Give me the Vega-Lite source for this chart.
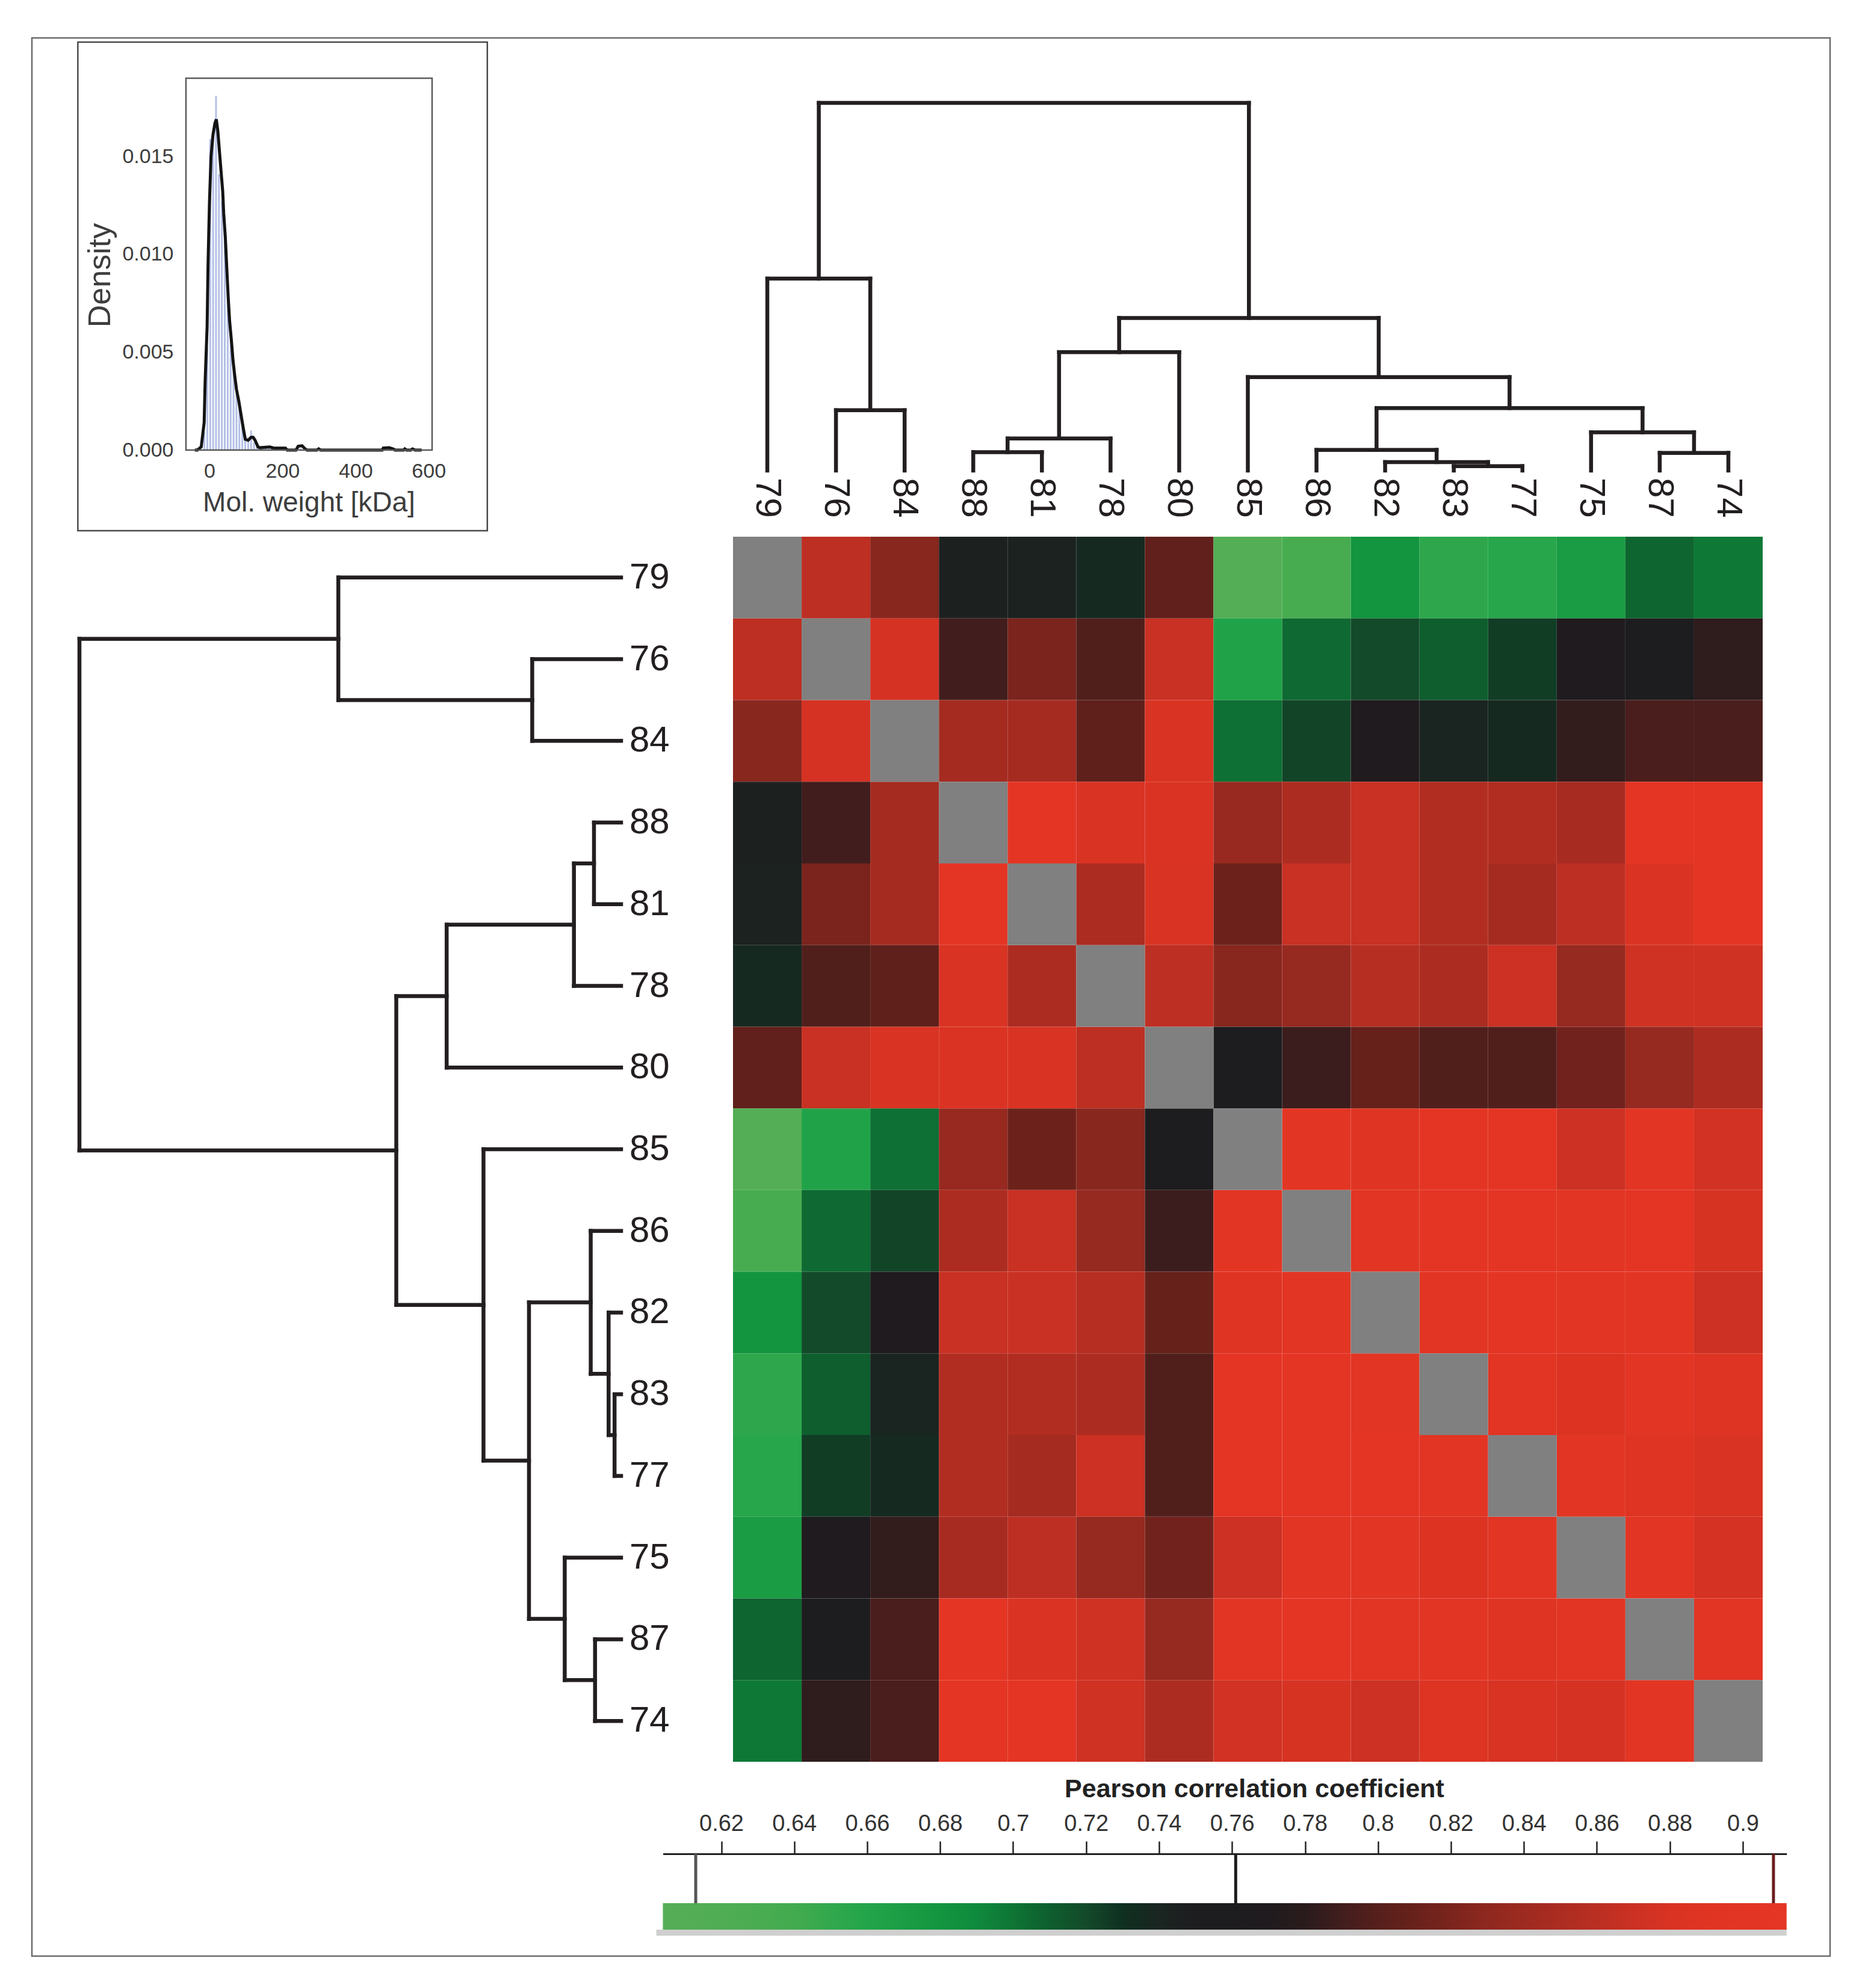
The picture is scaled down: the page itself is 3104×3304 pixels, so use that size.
{
"$schema": "https://vega.github.io/schema/vega-lite/v6.json",
"width": 2988, "height": 3188,
"autosize": {"type": "none"},
"padding": {"left": 53, "top": 63, "right": 63, "bottom": 53},
"background": "white",
"config": {"view": {"stroke": "#6b6b6b", "strokeWidth": 2.5}, "font": "Liberation Sans"},
"datasets": {
"heat": [
{"row":"79","col":"79","r":null},{"row":"79","col":"76","r":0.862},{"row":"79","col":"84","r":0.827},{"row":"79","col":"88","r":0.745},{"row":"79","col":"81","r":0.744},{"row":"79","col":"78","r":0.736},{"row":"79","col":"80","r":0.806},{"row":"79","col":"85","r":0.612},{"row":"79","col":"86","r":0.634},{"row":"79","col":"82","r":0.681},{"row":"79","col":"83","r":0.653},{"row":"79","col":"77","r":0.657},{"row":"79","col":"75","r":0.671},{"row":"79","col":"87","r":0.707},{"row":"79","col":"74","r":0.698},
{"row":"76","col":"79","r":0.862},{"row":"76","col":"76","r":null},{"row":"76","col":"84","r":0.877},{"row":"76","col":"88","r":0.790},{"row":"76","col":"81","r":0.820},{"row":"76","col":"78","r":0.797},{"row":"76","col":"80","r":0.868},{"row":"76","col":"85","r":0.663},{"row":"76","col":"86","r":0.705},{"row":"76","col":"82","r":0.720},{"row":"76","col":"83","r":0.710},{"row":"76","col":"77","r":0.725},{"row":"76","col":"75","r":0.768},{"row":"76","col":"87","r":0.750},{"row":"76","col":"74","r":0.782},
{"row":"84","col":"79","r":0.827},{"row":"84","col":"76","r":0.877},{"row":"84","col":"84","r":null},{"row":"84","col":"88","r":0.845},{"row":"84","col":"81","r":0.845},{"row":"84","col":"78","r":0.805},{"row":"84","col":"80","r":0.880},{"row":"84","col":"85","r":0.702},{"row":"84","col":"86","r":0.722},{"row":"84","col":"82","r":0.767},{"row":"84","col":"83","r":0.741},{"row":"84","col":"77","r":0.736},{"row":"84","col":"75","r":0.784},{"row":"84","col":"87","r":0.794},{"row":"84","col":"74","r":0.794},
{"row":"88","col":"79","r":0.745},{"row":"88","col":"76","r":0.790},{"row":"88","col":"84","r":0.845},{"row":"88","col":"88","r":null},{"row":"88","col":"81","r":0.905},{"row":"88","col":"78","r":0.880},{"row":"88","col":"80","r":0.883},{"row":"88","col":"85","r":0.836},{"row":"88","col":"86","r":0.851},{"row":"88","col":"82","r":0.868},{"row":"88","col":"83","r":0.854},{"row":"88","col":"77","r":0.854},{"row":"88","col":"75","r":0.847},{"row":"88","col":"87","r":0.907},{"row":"88","col":"74","r":0.905},
{"row":"81","col":"79","r":0.744},{"row":"81","col":"76","r":0.820},{"row":"81","col":"84","r":0.845},{"row":"81","col":"88","r":0.905},{"row":"81","col":"81","r":null},{"row":"81","col":"78","r":0.851},{"row":"81","col":"80","r":0.880},{"row":"81","col":"85","r":0.812},{"row":"81","col":"86","r":0.868},{"row":"81","col":"82","r":0.868},{"row":"81","col":"83","r":0.854},{"row":"81","col":"77","r":0.845},{"row":"81","col":"75","r":0.862},{"row":"81","col":"87","r":0.883},{"row":"81","col":"74","r":0.905},
{"row":"78","col":"79","r":0.736},{"row":"78","col":"76","r":0.797},{"row":"78","col":"84","r":0.805},{"row":"78","col":"88","r":0.880},{"row":"78","col":"81","r":0.851},{"row":"78","col":"78","r":null},{"row":"78","col":"80","r":0.862},{"row":"78","col":"85","r":0.827},{"row":"78","col":"86","r":0.835},{"row":"78","col":"82","r":0.857},{"row":"78","col":"83","r":0.851},{"row":"78","col":"77","r":0.871},{"row":"78","col":"75","r":0.835},{"row":"78","col":"87","r":0.873},{"row":"78","col":"74","r":0.873},
{"row":"80","col":"79","r":0.806},{"row":"80","col":"76","r":0.868},{"row":"80","col":"84","r":0.880},{"row":"80","col":"88","r":0.883},{"row":"80","col":"81","r":0.880},{"row":"80","col":"78","r":0.862},{"row":"80","col":"80","r":null},{"row":"80","col":"85","r":0.752},{"row":"80","col":"86","r":0.788},{"row":"80","col":"82","r":0.809},{"row":"80","col":"83","r":0.797},{"row":"80","col":"77","r":0.797},{"row":"80","col":"75","r":0.815},{"row":"80","col":"87","r":0.835},{"row":"80","col":"74","r":0.851},
{"row":"85","col":"79","r":0.612},{"row":"85","col":"76","r":0.663},{"row":"85","col":"84","r":0.702},{"row":"85","col":"88","r":0.836},{"row":"85","col":"81","r":0.812},{"row":"85","col":"78","r":0.827},{"row":"85","col":"80","r":0.752},{"row":"85","col":"85","r":null},{"row":"85","col":"86","r":0.900},{"row":"85","col":"82","r":0.889},{"row":"85","col":"83","r":0.907},{"row":"85","col":"77","r":0.905},{"row":"85","col":"75","r":0.871},{"row":"85","col":"87","r":0.898},{"row":"85","col":"74","r":0.875},
{"row":"86","col":"79","r":0.634},{"row":"86","col":"76","r":0.705},{"row":"86","col":"84","r":0.722},{"row":"86","col":"88","r":0.851},{"row":"86","col":"81","r":0.868},{"row":"86","col":"78","r":0.835},{"row":"86","col":"80","r":0.788},{"row":"86","col":"85","r":0.900},{"row":"86","col":"86","r":null},{"row":"86","col":"82","r":0.896},{"row":"86","col":"83","r":0.907},{"row":"86","col":"77","r":0.906},{"row":"86","col":"75","r":0.898},{"row":"86","col":"87","r":0.904},{"row":"86","col":"74","r":0.878},
{"row":"82","col":"79","r":0.681},{"row":"82","col":"76","r":0.720},{"row":"82","col":"84","r":0.767},{"row":"82","col":"88","r":0.868},{"row":"82","col":"81","r":0.868},{"row":"82","col":"78","r":0.857},{"row":"82","col":"80","r":0.809},{"row":"82","col":"85","r":0.889},{"row":"82","col":"86","r":0.896},{"row":"82","col":"82","r":null},{"row":"82","col":"83","r":0.898},{"row":"82","col":"77","r":0.904},{"row":"82","col":"75","r":0.898},{"row":"82","col":"87","r":0.898},{"row":"82","col":"74","r":0.871},
{"row":"83","col":"79","r":0.653},{"row":"83","col":"76","r":0.710},{"row":"83","col":"84","r":0.741},{"row":"83","col":"88","r":0.854},{"row":"83","col":"81","r":0.854},{"row":"83","col":"78","r":0.851},{"row":"83","col":"80","r":0.797},{"row":"83","col":"85","r":0.907},{"row":"83","col":"86","r":0.907},{"row":"83","col":"82","r":0.898},{"row":"83","col":"83","r":null},{"row":"83","col":"77","r":0.898},{"row":"83","col":"75","r":0.884},{"row":"83","col":"87","r":0.898},{"row":"83","col":"74","r":0.886},
{"row":"77","col":"79","r":0.657},{"row":"77","col":"76","r":0.725},{"row":"77","col":"84","r":0.736},{"row":"77","col":"88","r":0.854},{"row":"77","col":"81","r":0.845},{"row":"77","col":"78","r":0.871},{"row":"77","col":"80","r":0.797},{"row":"77","col":"85","r":0.905},{"row":"77","col":"86","r":0.906},{"row":"77","col":"82","r":0.904},{"row":"77","col":"83","r":0.898},{"row":"77","col":"77","r":null},{"row":"77","col":"75","r":0.898},{"row":"77","col":"87","r":0.889},{"row":"77","col":"74","r":0.879},
{"row":"75","col":"79","r":0.671},{"row":"75","col":"76","r":0.768},{"row":"75","col":"84","r":0.784},{"row":"75","col":"88","r":0.847},{"row":"75","col":"81","r":0.862},{"row":"75","col":"78","r":0.835},{"row":"75","col":"80","r":0.815},{"row":"75","col":"85","r":0.871},{"row":"75","col":"86","r":0.898},{"row":"75","col":"82","r":0.898},{"row":"75","col":"83","r":0.884},{"row":"75","col":"77","r":0.898},{"row":"75","col":"75","r":null},{"row":"75","col":"87","r":0.896},{"row":"75","col":"74","r":0.877},
{"row":"87","col":"79","r":0.707},{"row":"87","col":"76","r":0.750},{"row":"87","col":"84","r":0.794},{"row":"87","col":"88","r":0.907},{"row":"87","col":"81","r":0.883},{"row":"87","col":"78","r":0.873},{"row":"87","col":"80","r":0.835},{"row":"87","col":"85","r":0.898},{"row":"87","col":"86","r":0.904},{"row":"87","col":"82","r":0.898},{"row":"87","col":"83","r":0.898},{"row":"87","col":"77","r":0.889},{"row":"87","col":"75","r":0.896},{"row":"87","col":"87","r":null},{"row":"87","col":"74","r":0.898},
{"row":"74","col":"79","r":0.698},{"row":"74","col":"76","r":0.782},{"row":"74","col":"84","r":0.794},{"row":"74","col":"88","r":0.905},{"row":"74","col":"81","r":0.905},{"row":"74","col":"78","r":0.873},{"row":"74","col":"80","r":0.851},{"row":"74","col":"85","r":0.875},{"row":"74","col":"86","r":0.878},{"row":"74","col":"82","r":0.871},{"row":"74","col":"83","r":0.886},{"row":"74","col":"77","r":0.879},{"row":"74","col":"75","r":0.877},{"row":"74","col":"87","r":0.898},{"row":"74","col":"74","r":null}
],
"merges": [
{"lx":1.5,"rx":2.5,"lh":0,"rh":0,"h":0.164},
{"lx":0.5,"rx":2.0,"lh":0,"rh":0.164,"h":0.522},
{"lx":3.5,"rx":4.5,"lh":0,"rh":0,"h":0.05},
{"lx":4.0,"rx":5.5,"lh":0.05,"rh":0,"h":0.087},
{"lx":4.75,"rx":6.5,"lh":0.087,"rh":0,"h":0.322},
{"lx":10.5,"rx":11.5,"lh":0,"rh":0,"h":0.012},
{"lx":9.5,"rx":11.0,"lh":0,"rh":0.012,"h":0.023},
{"lx":8.5,"rx":10.25,"lh":0,"rh":0.023,"h":0.056},
{"lx":13.5,"rx":14.5,"lh":0,"rh":0,"h":0.048},
{"lx":12.5,"rx":14.0,"lh":0,"rh":0.048,"h":0.104},
{"lx":9.375,"rx":13.25,"lh":0.056,"rh":0.104,"h":0.17},
{"lx":7.5,"rx":11.3125,"lh":0,"rh":0.17,"h":0.254},
{"lx":5.625,"rx":9.40625,"lh":0.322,"rh":0.254,"h":0.415},
{"lx":1.25,"rx":7.515625,"lh":0.522,"rh":0.415,"h":1.0}
],
"leaves": [
{"id":"79","pos":0.5},{"id":"76","pos":1.5},{"id":"84","pos":2.5},{"id":"88","pos":3.5},{"id":"81","pos":4.5},{"id":"78","pos":5.5},{"id":"80","pos":6.5},{"id":"85","pos":7.5},{"id":"86","pos":8.5},{"id":"82","pos":9.5},{"id":"83","pos":10.5},{"id":"77","pos":11.5},{"id":"75","pos":12.5},{"id":"87","pos":13.5},{"id":"74","pos":14.5}
],
"hist": [
{"mw":-14,"d":0.0009},{"mw":-6,"d":0.0052},{"mw":2,"d":0.0159},{"mw":10,"d":0.0164},{"mw":18,"d":0.0181},{"mw":26,"d":0.0141},{"mw":34,"d":0.0127},{"mw":42,"d":0.0107},{"mw":50,"d":0.0084},{"mw":58,"d":0.0063},{"mw":66,"d":0.0046},{"mw":74,"d":0.0033},{"mw":82,"d":0.0025},{"mw":90,"d":0.0015},{"mw":98,"d":0.0007},{"mw":106,"d":0.0005},{"mw":114,"d":0.001},{"mw":122,"d":0.0004},{"mw":130,"d":0.0002},{"mw":138,"d":0.0001},{"mw":146,"d":0.0001},{"mw":154,"d":0.0001},{"mw":162,"d":0.0001},{"mw":170,"d":0.0001},{"mw":178,"d":0.0001},{"mw":186,"d":0.00005},{"mw":194,"d":0.00005},{"mw":202,"d":0.00005},{"mw":242,"d":0.0002},{"mw":250,"d":0.0001},{"mw":298,"d":0.00005},{"mw":490,"d":0.0001},{"mw":498,"d":0.00005},{"mw":538,"d":0.00005},{"mw":562,"d":0.00005}
],
"dens": [
{"mw":-40,"d":0},{"mw":-33,"d":0},{"mw":-22.5,"d":0.00016},{"mw":-14.5,"d":0.0014},{"mw":-11.8,"d":0.0035},{"mw":-6.4,"d":0.0063},{"mw":-3.8,"d":0.0095},{"mw":0,"d":0.0126},{"mw":4.3,"d":0.015},{"mw":9.6,"d":0.0161},{"mw":15,"d":0.0167},{"mw":18.8,"d":0.0169},{"mw":23,"d":0.0163},{"mw":26.8,"d":0.0154},{"mw":32,"d":0.0142},{"mw":36.4,"d":0.0132},{"mw":39,"d":0.0121},{"mw":43.4,"d":0.0109},{"mw":47.2,"d":0.0094},{"mw":51.4,"d":0.0078},{"mw":55.2,"d":0.0066},{"mw":60.6,"d":0.0055},{"mw":64.4,"d":0.0046},{"mw":68.6,"d":0.0039},{"mw":74,"d":0.0031},{"mw":80.4,"d":0.0025},{"mw":87.4,"d":0.0017},{"mw":92.8,"d":0.0011},{"mw":98.2,"d":0.00055},{"mw":106,"d":0.0005},{"mw":114,"d":0.00065},{"mw":119.6,"d":0.00065},{"mw":125,"d":0.0005},{"mw":133,"d":0.00016},{"mw":138,"d":0.00012},{"mw":165,"d":0.00016},{"mw":176,"d":0.0001},{"mw":208,"d":0.0001},{"mw":213,"d":0},{"mw":237,"d":0},{"mw":243,"d":0.0002},{"mw":253.6,"d":0.00022},{"mw":262,"d":0.00006},{"mw":267,"d":0},{"mw":294,"d":0},{"mw":299,"d":0.00006},{"mw":304.5,"d":0},{"mw":473,"d":0},{"mw":476,"d":0.0001},{"mw":492,"d":0.00012},{"mw":502.7,"d":0.00006},{"mw":508,"d":0},{"mw":532,"d":0},{"mw":535,"d":0.00006},{"mw":540,"d":0},{"mw":551,"d":0},{"mw":556,"d":0.00006},{"mw":563,"d":0},{"mw":581,"d":0}
],
"marks": [
{"v":0.613,"m":"min"},{"v":0.761,"m":"mid"},{"v":0.9084,"m":"max"}
]
},
"resolve": {"scale": {"x": "independent", "y": "independent", "color": "independent"}, "axis": {"x": "independent", "y": "independent"}},
"layer": [
{
 "data": {"name": "heat"},
 "layer": [
  {"transform": [{"filter": "isValid(datum.r)"}],
   "mark": {"type": "rect"},
   "encoding": {
    "x": {"field": "col", "type": "ordinal", "scale": {"domain": ["79","76","84","88","81","78","80","85","86","82","83","77","75","87","74"], "range": [1165, 2876], "paddingInner": 0, "paddingOuter": 0}, "axis": null},
    "y": {"field": "row", "type": "ordinal", "scale": {"domain": ["79","76","84","88","81","78","80","85","86","82","83","77","75","87","74"], "range": [829, 2865], "paddingInner": 0, "paddingOuter": 0}, "axis": null},
    "color": {"field": "r", "type": "quantitative", "legend": null, "scale": {"interpolate": "rgb", "clamp": true,
      "domain": [0.604,0.62,0.64,0.66,0.68,0.69,0.70,0.71,0.72,0.73,0.74,0.75,0.76,0.77,0.78,0.79,0.80,0.81,0.82,0.83,0.84,0.85,0.86,0.87,0.88,0.89,0.90,0.912],
      "range": ["#56ae56","#50ad53","#43ab4f","#22a54a","#13953f","#0f8a3d","#0e7535","#0e5e2e","#134a2a","#0f3020","#1a2521","#1d1d1f","#1d1c1f","#201b1e","#2a1b1c","#411e1d","#561f1b","#68211b","#7a241d","#8e281f","#9d2a20","#ac2c21","#ba2f22","#cb3123","#d93323","#e03423","#e33524","#e53524"]}}
   }},
  {"transform": [{"filter": "!isValid(datum.r)"}],
   "mark": {"type": "rect", "color": "#808080"},
   "encoding": {
    "x": {"field": "col", "type": "ordinal", "axis": null},
    "y": {"field": "row", "type": "ordinal", "axis": null}
   }}
 ]
},
{
 "data": {"name": "merges"},
 "layer": [
  {"mark": {"type": "rule", "color": "#231f20", "strokeWidth": 6.5, "strokeCap": "square"},
   "encoding": {
    "x": {"field": "lx", "type": "quantitative", "scale": {"domain": [0, 15], "range": [1165, 2876], "nice": false, "zero": false}, "axis": null},
    "x2": {"field": "rx"},
    "y": {"field": "h", "type": "quantitative", "scale": {"domain": [0, 1], "range": [719, 108], "nice": false, "zero": false}, "axis": null}
   }},
  {"mark": {"type": "rule", "color": "#231f20", "strokeWidth": 6.5, "strokeCap": "square"},
   "encoding": {
    "x": {"field": "lx", "type": "quantitative", "axis": null},
    "y": {"field": "lh", "type": "quantitative", "axis": null},
    "y2": {"field": "h"}
   }},
  {"mark": {"type": "rule", "color": "#231f20", "strokeWidth": 6.5, "strokeCap": "square"},
   "encoding": {
    "x": {"field": "rx", "type": "quantitative", "axis": null},
    "y": {"field": "rh", "type": "quantitative", "axis": null},
    "y2": {"field": "h"}
   }},
  {"data": {"name": "leaves"},
   "mark": {"type": "text", "angle": 90, "align": "left", "baseline": "middle", "dx": 12, "fontSize": 60, "color": "#231f20", "font": "Liberation Sans"},
   "encoding": {
    "x": {"field": "pos", "type": "quantitative", "axis": null},
    "y": {"datum": 0, "type": "quantitative", "axis": null},
    "text": {"field": "id"}
   }}
 ]
},
{
 "data": {"name": "merges"},
 "layer": [
  {"mark": {"type": "rule", "color": "#231f20", "strokeWidth": 6.5, "strokeCap": "square"},
   "encoding": {
    "y": {"field": "lx", "type": "quantitative", "scale": {"domain": [0, 15], "range": [829, 2865], "nice": false, "zero": false}, "axis": null},
    "y2": {"field": "rx"},
    "x": {"field": "h", "type": "quantitative", "scale": {"domain": [0, 1], "range": [979, 79], "nice": false, "zero": false}, "axis": null}
   }},
  {"mark": {"type": "rule", "color": "#231f20", "strokeWidth": 6.5, "strokeCap": "square"},
   "encoding": {
    "y": {"field": "lx", "type": "quantitative", "axis": null},
    "x": {"field": "lh", "type": "quantitative", "axis": null},
    "x2": {"field": "h"}
   }},
  {"mark": {"type": "rule", "color": "#231f20", "strokeWidth": 6.5, "strokeCap": "square"},
   "encoding": {
    "y": {"field": "rx", "type": "quantitative", "axis": null},
    "x": {"field": "rh", "type": "quantitative", "axis": null},
    "x2": {"field": "h"}
   }},
  {"data": {"name": "leaves"},
   "mark": {"type": "text", "align": "left", "baseline": "middle", "dx": 14, "fontSize": 60, "color": "#231f20", "font": "Liberation Sans"},
   "encoding": {
    "y": {"field": "pos", "type": "quantitative", "axis": null},
    "x": {"datum": 0, "type": "quantitative", "axis": null},
    "text": {"field": "id"}
   }}
 ]
},
{
 "layer": [
  {"data": {"name": "hist"},
   "mark": {"type": "bar", "size": 3, "color": "#b4c0e6"},
   "encoding": {
    "x": {"field": "mw", "type": "quantitative", "scale": {"domain": [-64.3, 609.6], "range": [251, 670], "nice": false, "zero": false},
          "axis": {"orient": "bottom", "offset": -2503, "values": [0, 200, 400, 600], "format": "d", "domain": false, "ticks": false, "grid": false, "labelFlush": false, "labelOverlap": false, "labelBound": false, "labelFontSize": 34, "labelColor": "#3d3d3d", "labelPadding": 18, "title": "Mol. weight [kDa]", "titleFontSize": 46, "titleFontWeight": "normal", "titleColor": "#3d3d3d", "titleX": 460, "titleY": 87, "titleBaseline": "middle", "titleAlign": "center", "titleAnchor": null}},
    "y": {"field": "d", "type": "quantitative", "scale": {"domain": [0, 0.019], "range": [685, 67], "nice": false, "zero": false},
          "axis": {"orient": "left", "offset": -251, "values": [0, 0.005, 0.01, 0.015], "format": ".3f", "domain": false, "ticks": false, "grid": false, "labelFlush": false, "labelOverlap": false, "labelBound": false, "labelFontSize": 34, "labelColor": "#3d3d3d", "labelPadding": 16, "title": "Density", "titleFontSize": 52, "titleFontWeight": "normal", "titleColor": "#3d3d3d", "titleX": -138, "titleY": 394, "titleAngle": -90, "titleBaseline": "middle", "titleAlign": "center", "titleAnchor": null}}
   }},
  {"data": {"name": "dens"},
   "mark": {"type": "line", "color": "#141414", "strokeWidth": 5, "strokeJoin": "miter"},
   "encoding": {
    "x": {"field": "mw", "type": "quantitative"},
    "y": {"field": "d", "type": "quantitative"}
   }},
  {"data": {"values": [{"box": "plot"}]},
   "mark": {"type": "rect", "filled": false, "color": "#5a5a5a", "strokeWidth": 2.5},
   "encoding": {
    "x": {"datum": -64.3, "type": "quantitative"}, "x2": {"datum": 609.6},
    "y": {"datum": 0, "type": "quantitative"}, "y2": {"datum": 0.019}
   }},
  {"data": {"values": [{"box": "inset"}]},
   "mark": {"type": "rect", "filled": false, "color": "#4a4a4a", "strokeWidth": 2.5},
   "encoding": {
    "x": {"datum": -360.3, "type": "quantitative"}, "x2": {"datum": 760.8},
    "y": {"datum": -0.00412, "type": "quantitative"}, "y2": {"datum": 0.020845}
   }}
 ]
},
{
 "layer": [
  {"data": {"values": [{"part": "bar"}]},
   "mark": {"type": "rect", "fill": {"gradient": "linear", "x1": 0, "y1": 0, "x2": 1, "y2": 0, "stops": [
      {"offset": 0, "color": "#56ae56"}, {"offset": 0.0519, "color": "#50ad53"}, {"offset": 0.1169, "color": "#43ab4f"}, {"offset": 0.1818, "color": "#22a54a"}, {"offset": 0.2468, "color": "#13953f"}, {"offset": 0.2792, "color": "#0f8a3d"}, {"offset": 0.3117, "color": "#0e7535"}, {"offset": 0.3442, "color": "#0e5e2e"}, {"offset": 0.3766, "color": "#134a2a"}, {"offset": 0.4091, "color": "#0f3020"}, {"offset": 0.4416, "color": "#1a2521"}, {"offset": 0.474, "color": "#1d1d1f"}, {"offset": 0.5065, "color": "#1d1c1f"}, {"offset": 0.539, "color": "#201b1e"}, {"offset": 0.5714, "color": "#2a1b1c"}, {"offset": 0.6039, "color": "#411e1d"}, {"offset": 0.6364, "color": "#561f1b"}, {"offset": 0.6688, "color": "#68211b"}, {"offset": 0.7013, "color": "#7a241d"}, {"offset": 0.7338, "color": "#8e281f"}, {"offset": 0.7662, "color": "#9d2a20"}, {"offset": 0.7987, "color": "#ac2c21"}, {"offset": 0.8312, "color": "#ba2f22"}, {"offset": 0.8636, "color": "#cb3123"}, {"offset": 0.8961, "color": "#d93323"}, {"offset": 0.9286, "color": "#e03423"}, {"offset": 0.961, "color": "#e33524"}, {"offset": 1, "color": "#e53524"}]}},
   "encoding": {
    "x": {"datum": 0.604, "type": "quantitative", "scale": {"domain": [0.604, 0.912], "range": [1048.5, 2915.75], "nice": false, "zero": false},
          "axis": {"orient": "top", "offset": -3018, "values": [0.62,0.64,0.66,0.68,0.7,0.72,0.74,0.76,0.78,0.8,0.82,0.84,0.86,0.88,0.9], "format": "~g", "grid": false, "domain": true, "domainColor": "#222222", "domainWidth": 3, "ticks": true, "tickColor": "#222222", "tickWidth": 2.5, "tickSize": 21, "labelFlush": false, "labelOverlap": false, "labelBound": false, "labelFontSize": 38, "labelColor": "#333333", "labelPadding": 10, "title": "Pearson correlation coefficient", "titleFontSize": 43, "titleFontWeight": "bold", "titleColor": "#222222", "titleX": 2031, "titleY": -108, "titleBaseline": "middle", "titleAlign": "center", "titleAnchor": null}},
    "x2": {"datum": 0.912},
    "y": {"datum": 0.646, "type": "quantitative", "scale": {"domain": [0, 1], "range": [3018, 3145], "nice": false, "zero": false}, "axis": null},
    "y2": {"datum": 0.992}
   }},
  {"data": {"values": [{"part": "shadow"}]},
   "mark": {"type": "rect", "color": "#cfcfcf"},
   "encoding": {
    "x": {"datum": 0.6022, "type": "quantitative"}, "x2": {"datum": 0.912},
    "y": {"datum": 0.992, "type": "quantitative"}, "y2": {"datum": 1.07}
   }},
  {"data": {"name": "marks"},
   "mark": {"type": "rule", "strokeWidth": 5},
   "encoding": {
    "x": {"field": "v", "type": "quantitative"},
    "y": {"datum": 0, "type": "quantitative"}, "y2": {"datum": 0.646},
    "color": {"field": "m", "type": "nominal", "scale": {"domain": ["min", "mid", "max"], "range": ["#555555", "#1d1c1f", "#6b1d1d"]}, "legend": null}
   }}
 ]
}
]
}
